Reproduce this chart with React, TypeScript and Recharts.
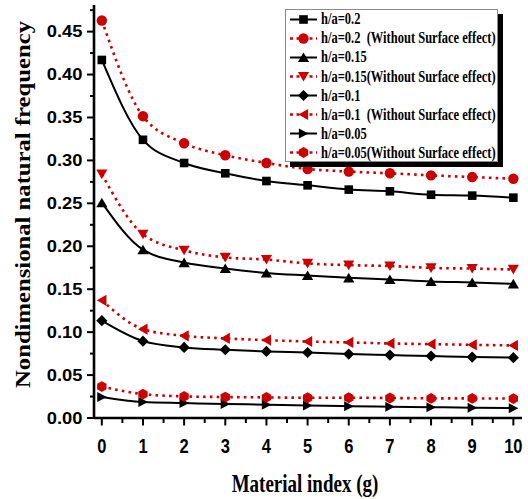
import React from 'react';
import { LineChart, Line, XAxis, YAxis, Legend } from 'recharts';

// ---------- data ----------
const materialIndex = [0, 1, 2, 3, 4, 5, 6, 7, 8, 9, 10];
const ha020 = [0.417, 0.324, 0.297, 0.285, 0.276, 0.271, 0.266, 0.264, 0.26, 0.259, 0.2566];
const ha020NoSurface = [0.463, 0.3515, 0.32, 0.306, 0.297, 0.29, 0.287, 0.285, 0.2826, 0.2806, 0.2787];
const ha015 = [0.2508, 0.196, 0.181, 0.1742, 0.169, 0.166, 0.1633, 0.1613, 0.159, 0.1578, 0.1563];
const ha015NoSurface = [0.284, 0.214, 0.1953, 0.187, 0.1845, 0.18, 0.178, 0.177, 0.1748, 0.174, 0.173];
const ha010 = [0.1133, 0.0895, 0.0822, 0.0795, 0.0775, 0.0763, 0.0744, 0.0733, 0.0722, 0.071, 0.0703];
const ha010NoSurface = [0.137, 0.1035, 0.0957, 0.0927, 0.0907, 0.0891, 0.088, 0.0868, 0.086, 0.0852, 0.0845];
const ha005 = [0.0245, 0.0185, 0.0174, 0.0163, 0.0155, 0.0145, 0.0138, 0.0132, 0.0126, 0.012, 0.0115];
const ha005NoSurface = [0.0366, 0.0278, 0.0252, 0.0244, 0.024, 0.0236, 0.0236, 0.0233, 0.0229, 0.0228, 0.0226];

const legendLabels = [
  'h/a=0.2',
  'h/a=0.2  (Without Surface effect)',
  'h/a=0.15',
  'h/a=0.15(Without Surface effect)',
  'h/a=0.1',
  'h/a=0.1  (Without Surface effect)',
  'h/a=0.05',
  'h/a=0.05(Without Surface effect)',
];

const xMajorTicks = [0, 1, 2, 3, 4, 5, 6, 7, 8, 9, 10];
const xMinorTicks = [0.5, 1.5, 2.5, 3.5, 4.5, 5.5, 6.5, 7.5, 8.5, 9.5];
const yMajorTicks = [0, 0.05, 0.1, 0.15, 0.2, 0.25, 0.3, 0.35, 0.4, 0.45];
const yMinorTicks = [0.025, 0.075, 0.125, 0.175, 0.225, 0.275, 0.325, 0.375, 0.425, 0.475];
const xDomain = [-0.19, 10.21];
const yDomain = [0, 0.481];

const xLabel = 'Material index (g)';
const yLabel = 'Nondimensional natural frequency';

// ---------- styling / config ----------
const RED = '#cc0000';
const BLACK = '#000000';

type Shape = 'square' | 'circle' | 'up' | 'down' | 'diamond' | 'left' | 'right' | 'hex';

const seriesValues = [ha020, ha020NoSurface, ha015, ha015NoSurface, ha010, ha010NoSurface, ha005, ha005NoSurface];
const seriesKeys = ['s020', 's020ns', 's015', 's015ns', 's010', 's010ns', 's005', 's005ns'];
const seriesShapes: Shape[] = ['square', 'circle', 'up', 'down', 'diamond', 'left', 'right', 'hex'];
const seriesColors = [BLACK, RED, BLACK, RED, BLACK, RED, BLACK, RED];
const seriesDashed = [false, true, false, true, false, true, false, true];

const data = materialIndex.map((g, i) => {
  const row: Record<string, number> = { g };
  seriesKeys.forEach((k, s) => {
    row[k] = seriesValues[s][i];
  });
  return row;
});

const SERIF = '"Liberation Serif", "Times New Roman", serif';
const SANS = '"Liberation Sans", Arial, sans-serif';

function Marker({ shape, cx, cy, color }: { shape: Shape; cx: number; cy: number; color: string }) {
  switch (shape) {
    case 'square':
      return <rect x={cx - 4.3} y={cy - 4.3} width={8.6} height={8.6} fill={color} />;
    case 'circle':
      return <circle cx={cx} cy={cy} r={5.2} fill={color} />;
    case 'up':
      return <polygon points={`${cx},${cy - 5} ${cx + 5.6},${cy + 4.6} ${cx - 5.6},${cy + 4.6}`} fill={color} />;
    case 'down':
      return <polygon points={`${cx},${cy + 5} ${cx + 5.6},${cy - 4.6} ${cx - 5.6},${cy - 4.6}`} fill={color} />;
    case 'diamond':
      return <polygon points={`${cx},${cy - 5.6} ${cx + 5.6},${cy} ${cx},${cy + 5.6} ${cx - 5.6},${cy}`} fill={color} />;
    case 'left':
      return <polygon points={`${cx - 5},${cy} ${cx + 4.6},${cy - 5.6} ${cx + 4.6},${cy + 5.6}`} fill={color} />;
    case 'right':
      return <polygon points={`${cx + 5},${cy} ${cx - 4.6},${cy - 5} ${cx - 4.6},${cy + 5}`} fill={color} />;
    case 'hex': {
      const r = 5.4;
      const pts = [0, 1, 2, 3, 4, 5]
        .map((k) => {
          const a = (Math.PI / 3) * k - Math.PI / 2;
          return `${cx + r * Math.cos(a)},${cy + r * Math.sin(a)}`;
        })
        .join(' ');
      return <polygon points={pts} fill={color} />;
    }
    default:
      return null;
  }
}

const YTick = (props: any) => {
  const { x, y, payload } = props;
  const v = payload.value as number;
  const major = yMajorTicks.includes(v);
  return (
    <g>
      <line x1={x} x2={x - (major ? 7 : 4)} y1={y} y2={y} stroke="#000" strokeWidth={2} />
      {major && (
        <text
          transform={`translate(${x - 11.5},${y}) scale(1.08,0.92)`}
          dy="0.36em"
          textAnchor="end"
          fontFamily={SANS}
          fontWeight="bold"
          fontSize={17}
          fill="#000"
        >
          {v.toFixed(2)}
        </text>
      )}
    </g>
  );
};

const XTick = (props: any) => {
  const { x, y, payload } = props;
  const v = payload.value as number;
  const major = xMajorTicks.includes(v);
  return (
    <g>
      <line x1={x} x2={x} y1={y} y2={y + (major ? 7.5 : 5)} stroke="#000" strokeWidth={2} />
      {major && (
        <text
          transform={`translate(${x},${y + 34.5}) scale(1,1.2)`}
          textAnchor="middle"
          fontFamily={SANS}
          fontWeight="bold"
          fontSize={16.5}
          fill="#000"
        >
          {String(v)}
        </text>
      )}
    </g>
  );
};

const XLabel = (props: any) => {
  const vb = props.viewBox || {};
  const cx = vb.x + vb.width / 2 - 3;
  const cy = vb.y + 74;
  return (
    <text
      transform={`translate(${cx},${cy}) scale(1,1.35)`}
      textAnchor="middle"
      fontFamily={SERIF}
      fontWeight="bold"
      fontSize={19}
      fill="#000"
    >
      {xLabel}
    </text>
  );
};

const YLabel = (props: any) => {
  const vb = props.viewBox || {};
  const cy = vb.y + vb.height / 2 - 7;
  return (
    <text
      x={0}
      y={0}
      transform={`translate(30,${cy}) rotate(-90)`}
      textAnchor="middle"
      fontFamily={SERIF}
      fontWeight="bold"
      fontSize={20}
      textLength={367}
      lengthAdjust="spacingAndGlyphs"
      fill="#000"
    >
      {yLabel}
    </text>
  );
};

const LegendBox = () => (
  <div
    style={{
      width: 213,
      height: 153,
      border: '1px solid #8a8a8a',
      background: '#fff',
      boxShadow: '5px 5px 0 #000',
      boxSizing: 'border-box',
    }}
  >
    {legendLabels.map((label, i) => (
      <div key={label} style={{ height: 19.1, display: 'flex', alignItems: 'center' }}>
        <svg width={35} height={19} style={{ flex: '0 0 auto', display: 'block' }}>
          <line
            x1={4}
            x2={31}
            y1={9.5}
            y2={9.5}
            stroke={seriesColors[i]}
            strokeWidth={seriesDashed[i] ? 2.5 : 2}
            strokeDasharray={seriesDashed[i] ? '3 3.5' : undefined}
          />
          <Marker shape={seriesShapes[i]} cx={17.5} cy={9.5} color={seriesColors[i]} />
        </svg>
        <span
          style={{
            fontFamily: SERIF,
            fontWeight: 'bold',
            fontSize: 12.5,
            whiteSpace: 'pre',
            display: 'inline-block',
            transform: 'scaleY(1.35)',
            lineHeight: '14px',
            color: '#000',
          }}
        >
          {label}
        </span>
      </div>
    ))}
  </div>
);

export default function App() {
  return (
    <div style={{ position: 'absolute', left: 0, top: 0, width: 528, height: 499, background: '#fff' }}>
      <LineChart width={528} height={499} data={data} margin={{ top: 5, right: 6, bottom: 0, left: 0 }}>
        <XAxis
          dataKey="g"
          type="number"
          domain={xDomain}
          ticks={[...xMajorTicks, ...xMinorTicks]}
          interval={0}
          height={81}
          tickSize={0}
          tickMargin={0}
          tickLine={false}
          tick={<XTick />}
          axisLine={{ stroke: '#000', strokeWidth: 2.6 }}
          allowDataOverflow
          label={<XLabel />}
        />
        <YAxis
          type="number"
          domain={yDomain}
          ticks={[...yMajorTicks, ...yMinorTicks]}
          interval={0}
          width={94}
          tickSize={0}
          tickMargin={0}
          tickLine={false}
          tick={<YTick />}
          axisLine={{ stroke: '#000', strokeWidth: 2.6 }}
          allowDataOverflow
          label={<YLabel />}
        />
        <XAxis
          xAxisId="top"
          orientation="top"
          type="number"
          domain={xDomain}
          height={0}
          tick={false}
          tickLine={false}
          axisLine={{ stroke: '#555', strokeWidth: 1.6 }}
        />
        <YAxis
          yAxisId="right"
          orientation="right"
          type="number"
          domain={yDomain}
          width={0}
          tick={false}
          tickLine={false}
          axisLine={{ stroke: '#555', strokeWidth: 1.6 }}
        />
        {seriesKeys.map((k, i) => (
          <Line
            key={k}
            dataKey={k}
            name={legendLabels[i]}
            type="monotone"
            stroke={seriesColors[i]}
            strokeWidth={seriesDashed[i] ? 2.6 : 2}
            strokeDasharray={seriesDashed[i] ? '2.6 4.2' : undefined}
            isAnimationActive={false}
            activeDot={false}
            dot={(p: any) => (
              <Marker key={`${k}-${p.index}`} shape={seriesShapes[i]} cx={p.cx} cy={p.cy} color={seriesColors[i]} />
            )}
          />
        ))}
        <Legend
          layout="vertical"
          align="center"
          verticalAlign="middle"
          wrapperStyle={{ left: 285, top: 8.7, width: 213, height: 153 }}
          content={() => <LegendBox />}
        />
      </LineChart>
    </div>
  );
}
